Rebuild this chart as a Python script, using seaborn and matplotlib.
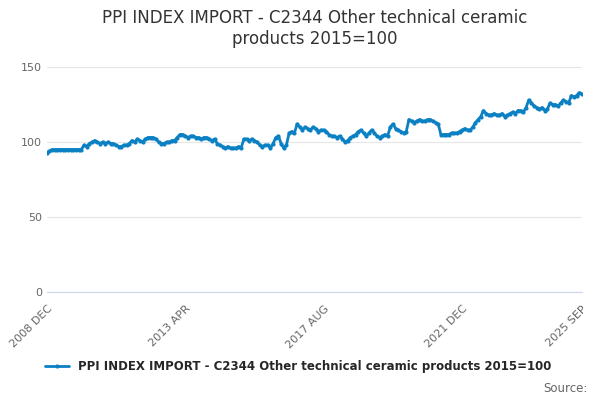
import numpy as np
import pandas as pd
import matplotlib.pyplot as plt
import seaborn as sns
sns.set_style('white')


label = 'PPI INDEX IMPORT - C2344 Other technical ceramic products 2015=100'

# monthly values, 2008 DEC to 2025 SEP
values = [93, 94, 95, 95, 95, 95, 95, 95, 95, 95, 95, 95,
          95, 95, 98, 97, 99, 100, 101, 100, 99, 100, 99, 100,
          99, 99, 98, 97, 97, 98, 98, 99, 101, 100, 102, 101,
          100, 102, 103, 103, 103, 102, 100, 99, 99, 100, 100, 101,
          101, 103, 105, 105, 104, 103, 104, 104, 103, 103, 102, 103,
          103, 102, 101, 102, 99, 98, 97, 96, 97, 96, 96, 96,
          97, 96, 102, 102, 101, 102, 101, 100, 98, 97, 98, 98,
          96, 99, 103, 104, 99, 96, 98, 106, 107, 106, 112, 110,
          108, 110, 109, 108, 110, 109, 107, 108, 108, 107, 105, 104,
          104, 103, 104, 102, 100, 101, 103, 104, 105, 107, 108, 106,
          104, 106, 108, 106, 104, 103, 104, 105, 104, 110, 112, 109,
          108, 107, 106, 107, 115, 114, 113, 114, 115, 114, 114, 115,
          115, 114, 113, 112, 105, 105, 105, 105, 106, 106, 106, 107,
          108, 109, 108, 108, 110, 113, 115, 117, 121, 119, 118, 118,
          119, 118, 118, 119, 117, 118, 119, 120, 119, 121, 121, 120,
          123, 128, 126, 124, 123, 122, 123, 121, 122, 126, 125, 125,
          124, 126, 128, 127, 126, 131, 130, 131, 133, 132]
df = pd.DataFrame({'month': np.arange(len(values)), 'value': values})

fig, ax = plt.subplots(figsize=(6, 4), dpi=100)
sns.lineplot(data=df, x='month', y='value', ax=ax, color='#0b80c3', linewidth=2,
             marker='o', markersize=3, markeredgewidth=0, label=label)

ax.set_title('PPI INDEX IMPORT - C2344 Other technical ceramic\nproducts 2015=100',
             fontsize=12, color='#333333', y=1.0, pad=6)
ax.set_ylim(0, 160)
ax.set_yticks([0, 50, 100, 150])
ax.set_xlim(0, len(values) - 1)
ax.set_xticks([0, 52, 104, 156, 201])
ax.set_xticklabels(['2008 DEC', '2013 APR', '2017 AUG', '2021 DEC', '2025 SEP'], rotation=45,
                   ha='right', rotation_mode='anchor')
ax.tick_params(axis='both', labelsize=8, colors='#666666', length=0)
ax.tick_params(axis='x', length=5, color='#ccd6eb')
ax.yaxis.grid(True, color='#e6e6e6')
ax.set_xlabel('')
ax.set_ylabel('')
sns.despine(left=True)
ax.spines['bottom'].set_color('#ccd6eb')
ax.legend(loc='upper center', bbox_to_anchor=(0.47, -0.24), frameon=False,
          prop={'weight': 'bold', 'size': 8.5})
fig.text(0.98, 0.02, 'Source:', ha='right', fontsize=8.5, color='#666666')
fig.subplots_adjust(left=0.078, right=0.97, top=0.87, bottom=0.27)
fig.savefig('out.png')
